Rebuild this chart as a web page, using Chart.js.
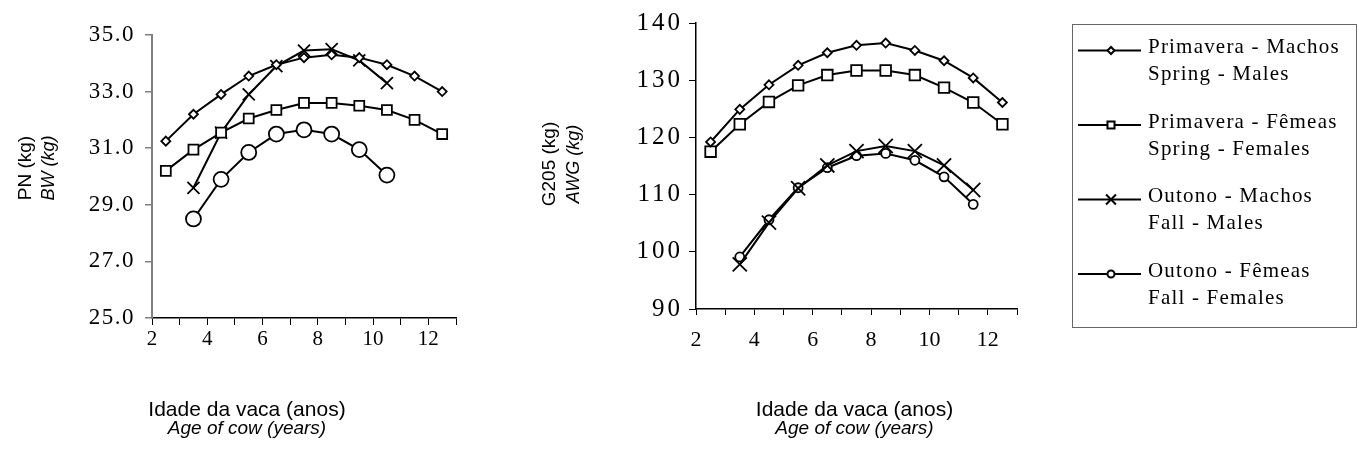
<!DOCTYPE html>
<html>
<head>
<meta charset="utf-8">
<script src="https://cdn.jsdelivr.net/npm/chart.js@4.4.0/dist/chart.umd.min.js"></script>
<style>
    body { margin: 0; background: #fff; width: 1359px; height: 467px; overflow: hidden; position: relative; }
    canvas { position: absolute; top: 0; }
    #pn { left: 0; }
    #g205 { left: 520px; }
</style>
</head>
<body>
<canvas id="pn" width="480" height="467"></canvas>
<canvas id="g205" width="839" height="467"></canvas>
<script>
// idade da vaca (anos)
let ages = [2, 3, 4, 5, 6, 7, 8, 9, 10, 11, 12];
let xLabels = [2, 4, 6, 8, 10, 12];

// PN (kg) - peso ao nascer
let pnSpringMales   = [31.25, 32.2, 32.9, 33.55, 33.95, 34.2, 34.3, 34.2, 33.95, 33.55, 33.0];
let pnSpringFemales = [30.2, 30.95, 31.55, 32.05, 32.35, 32.6, 32.6, 32.5, 32.35, 32.0, 31.5];
let pnFallMales     = [null, 29.6, 31.55, 32.9, 33.9, 34.45, 34.5, 34.1, 33.3, null, null];
let pnFallFemales   = [null, 28.5, 29.9, 30.85, 31.5, 31.65, 31.5, 30.95, 30.05, null, null];

// G205 (kg)
let gSpringMales   = [119.2, 124.9, 129.2, 132.6, 134.8, 136.1, 136.5, 135.2, 133.4, 130.4, 126.1];
let gSpringFemales = [117.5, 122.3, 126.2, 129.1, 130.9, 131.7, 131.7, 130.9, 128.7, 126.1, 122.3];
let gFallMales     = [null, 97.8, 105.1, 111.1, 115.1, 117.6, 118.5, 117.6, 115.1, 110.8, null];
let gFallFemales   = [null, 99.1, 105.6, 111.2, 114.7, 116.8, 117.2, 116.0, 113.1, 108.3, null];

let pnTicks = [25, 27, 29, 31, 33, 35];
let gTicks = [90, 100, 110, 120, 130, 140];

let legendPt = ['Primavera - Machos', 'Primavera - Fêmeas', 'Outono - Machos', 'Outono - Fêmeas'];
let legendEn = ['Spring - Males', 'Spring - Females', 'Fall - Males', 'Fall - Females'];
let markers = ['rectRot', 'rect', 'crossRot', 'circle'];

function toPoints(values) {
    // excel category axis: every age sits in the middle of its band
    return ages.map((a, i) => ({ x: a + 0.5, y: values[i] })).filter(p => p.y !== null);
}

function makeDatasets(series, radius) {
    return series.map((values, i) => ({
        label: legendPt[i],
        data: toPoints(values),
        borderColor: '#000',
        borderWidth: 2,
        pointStyle: markers[i],
        pointRadius: radius[i],
        pointBorderWidth: 1.8,
        pointBackgroundColor: '#fff',
        pointBorderColor: '#000',
        tension: 0
    }));
}

// letter spacing for y tick labels (the original figures are stretched)
let spacedYLabels = {
    id: 'spacedYLabels',
    beforeDraw(chart, args, opts) {
        let y = chart.scales.y;
        if (y._spaced) return;
        let draw = y.drawLabels;
        y.drawLabels = function (area) {
            this.ctx.save();
            this.ctx.letterSpacing = opts.spacing + 'px';
            draw.call(this, area);
            this.ctx.restore();
        };
        y._spaced = true;
    }
};

// two-line axis titles (portuguese + english italic)
let axisTitles = {
    id: 'axisTitles',
    afterDraw(chart, args, o) {
        let ctx = chart.ctx;
        ctx.save();
        ctx.fillStyle = '#000';
        ctx.textAlign = 'center';
        ctx.textBaseline = 'middle';

        ctx.font = '21px "Liberation Sans"';
        ctx.fillText(o.x[0], o.xCenter, o.xLine1);
        ctx.font = 'italic 19px "Liberation Sans"';
        ctx.fillText(o.x[1], o.xCenter, o.xLine2);

        ctx.save();
        ctx.translate(o.yLine1, o.yCenter);
        ctx.rotate(-Math.PI / 2);
        ctx.font = '19px "Liberation Sans"';
        ctx.fillText(o.y[0], 0, 0);
        ctx.restore();

        ctx.save();
        ctx.translate(o.yLine2, o.yCenter);
        ctx.rotate(-Math.PI / 2);
        ctx.font = 'italic 18px "Liberation Sans"';
        ctx.fillText(o.y[1], 0, 0);
        ctx.restore();

        ctx.restore();
    }
};

// legend box on the right of the G205 chart
let boxLegend = {
    id: 'boxLegend',
    afterDraw(chart) {
        let ctx = chart.ctx;
        let left = 552, top = 24, right = 836, bottom = 327;
        let radius = [3.5, 5, 7, 3.5];
        ctx.save();
        ctx.strokeStyle = '#666';
        ctx.lineWidth = 1;
        ctx.strokeRect(left + 0.5, top + 0.5, right - left, bottom - top);

        for (let i = 0; i < legendPt.length; i++) {
            let y = 50.5 + i * 74.5;
            ctx.strokeStyle = '#000';
            ctx.lineWidth = 2;
            ctx.beginPath();
            ctx.moveTo(558, y);
            ctx.lineTo(621, y);
            ctx.stroke();

            ctx.fillStyle = '#fff';
            ctx.lineWidth = 2;
            Chart.helpers.drawPoint(ctx, { pointStyle: markers[i], radius: radius[i], borderWidth: 2, rotation: 0 }, 591, y);

            ctx.fillStyle = '#000';
            ctx.font = '21px "Liberation Serif"';
            ctx.letterSpacing = '1.2px';
            ctx.textAlign = 'left';
            ctx.textBaseline = 'middle';
            ctx.fillText(legendPt[i], 628, y - 3);
            ctx.fillText(legendEn[i], 628, y + 24);
        }
        ctx.restore();
    }
};

let pnChart = new Chart(document.getElementById('pn'), {
    type: 'line',
    data: {
        datasets: makeDatasets([pnSpringMales, pnSpringFemales, pnFallMales, pnFallFemales], [4.5, 7, 8.5, 7.5])
    },
    plugins: [spacedYLabels, axisTitles],
    options: {
        responsive: false,
        animation: false,
        layout: { padding: { top: 35, right: 24, left: 0, bottom: 0 } },
        plugins: {
            legend: { display: false },
            tooltip: { enabled: false },
            spacedYLabels: { spacing: 1.5 },
            axisTitles: {
                x: ['Idade da vaca (anos)', 'Age of cow (years)'], xCenter: 247, xLine1: 410, xLine2: 429,
                y: ['PN (kg)', 'BW (kg)'], yCenter: 168, yLine1: 26, yLine2: 49
            }
        },
        scales: {
            x: {
                type: 'linear', min: 2, max: 13,
                ticks: {
                    stepSize: 1, autoSkip: false, maxRotation: 0, padding: 2, color: '#000',
                    font: { family: 'Liberation Serif', size: 21 },
                    callback: v => xLabels.includes(v) ? String(v) : ''
                },
                grid: { drawOnChartArea: false, tickLength: 7, color: '#000', lineWidth: 1 },
                border: { color: '#000', width: 1.5 },
                afterFit: s => { s.height = 149; }
            },
            y: {
                min: 25, max: 35,
                afterBuildTicks: s => { s.ticks = pnTicks.map(v => ({ value: v })); },
                ticks: {
                    padding: 10, color: '#000',
                    font: { family: 'Liberation Serif', size: 23 },
                    callback: v => v.toFixed(1)
                },
                grid: { drawOnChartArea: false, tickLength: 7, color: '#808080', lineWidth: 1.5 },
                border: { color: '#808080', width: 2 },
                afterFit: s => { s.width = 152; }
            }
        }
    }
});

let gChart = new Chart(document.getElementById('g205'), {
    type: 'line',
    data: {
        datasets: makeDatasets([gSpringMales, gSpringFemales, gFallMales, gFallFemales], [4.5, 7.5, 10, 4.5])
    },
    plugins: [spacedYLabels, axisTitles, boxLegend],
    options: {
        responsive: false,
        animation: false,
        layout: { padding: { top: 23, right: 342, left: 0, bottom: 0 } },
        plugins: {
            legend: { display: false },
            tooltip: { enabled: false },
            spacedYLabels: { spacing: 3 },
            axisTitles: {
                x: ['Idade da vaca (anos)', 'Age of cow (years)'], xCenter: 334.5, xLine1: 410, xLine2: 429,
                y: ['G205 (kg)', 'AWG (kg)'], yCenter: 164, yLine1: 30, yLine2: 54
            }
        },
        scales: {
            x: {
                type: 'linear', min: 2, max: 13,
                ticks: {
                    stepSize: 1, autoSkip: false, maxRotation: 0, padding: 12, color: '#000',
                    font: { family: 'Liberation Serif', size: 22 },
                    callback: v => xLabels.includes(v) ? String(v) : ''
                },
                grid: { drawOnChartArea: false, tickLength: 6, color: '#000', lineWidth: 1 },
                border: { color: '#000', width: 1.5 },
                afterFit: s => { s.height = 158; }
            },
            y: {
                min: 90, max: 140,
                afterBuildTicks: s => { s.ticks = gTicks.map(v => ({ value: v })); },
                ticks: {
                    padding: 6, color: '#000',
                    font: { family: 'Liberation Serif', size: 25 }
                },
                grid: { drawOnChartArea: false, tickLength: 7, color: '#000', lineWidth: 1 },
                border: { color: '#000', width: 1.5 },
                afterFit: s => { s.width = 176; }
            }
        }
    }
});
</script>
</body>
</html>
